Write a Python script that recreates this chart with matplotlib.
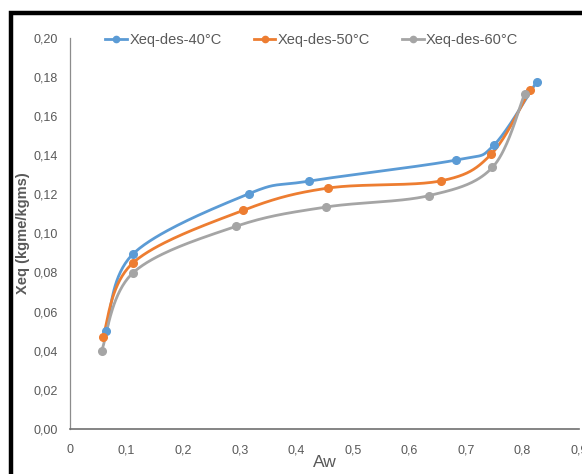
import matplotlib
matplotlib.use("Agg")
import matplotlib.pyplot as plt
import numpy as np
from matplotlib.lines import Line2D
from matplotlib.patches import Rectangle

plt.rcParams['font.family'] = ['Liberation Sans Narrow', 'Liberation Sans', 'DejaVu Sans']

# Data
aw_40 = [0.064, 0.112, 0.317, 0.423, 0.682, 0.749, 0.825]
xeq_40 = [0.0500, 0.0896, 0.1203, 0.1267, 0.1374, 0.1449, 0.1774]
aw_50 = [0.058, 0.111, 0.306, 0.456, 0.656, 0.745, 0.813]
xeq_50 = [0.0468, 0.0848, 0.1117, 0.1231, 0.1268, 0.1405, 0.1730]
aw_60 = [0.056, 0.111, 0.294, 0.452, 0.634, 0.747, 0.804]
xeq_60 = [0.0400, 0.0797, 0.1036, 0.1134, 0.1192, 0.1337, 0.1713]

labels = ["Xeq-des-40°C", "Xeq-des-50°C", "Xeq-des-60°C"]
colors = ["#5B9BD5", "#ED7D31", "#A5A5A5"]

x_ticks = [0, 0.1, 0.2, 0.3, 0.4, 0.5, 0.6, 0.7, 0.8, 0.9]
y_ticks = [0.00, 0.02, 0.04, 0.06, 0.08, 0.10, 0.12, 0.14, 0.16, 0.18, 0.20]


def smooth(xs, ys, n=40):
    # Excel-style smoothed line: cubic Bezier through points
    p = np.column_stack([xs, ys])
    pts = np.vstack([p[0], p, p[-1]])
    out = []
    t = np.linspace(0, 1, n)[:, None]
    for i in range(1, len(pts) - 2):
        p0, p3 = pts[i], pts[i + 1]
        c1 = p0 + (pts[i + 1] - pts[i - 1]) / 6
        c2 = p3 - (pts[i + 2] - pts[i]) / 6
        seg = ((1 - t) ** 3) * p0 + 3 * ((1 - t) ** 2) * t * c1 + 3 * (1 - t) * t ** 2 * c2 + t ** 3 * p3
        out.append(seg)
    out = np.vstack(out)
    return out[:, 0], out[:, 1]


fig = plt.figure(figsize=(5.82, 4.74), dpi=100, facecolor="white")
ax = fig.add_axes([70 / 582, 1 - 429 / 474, 509 / 582, (429 - 37.6) / 474])

series = [(aw_40, xeq_40), (aw_50, xeq_50), (aw_60, xeq_60)]
for (xs, ys), col in zip(series, colors):
    sx, sy = smooth(xs, ys)
    ax.plot(sx, sy, color=col, lw=2, solid_capstyle="round", zorder=2)
    ax.plot(xs, ys, ls="none", marker="o", ms=5.5, color=col, zorder=3)

ax.set_xlim(0, 0.9)
ax.set_ylim(0, 0.2)
ax.set_xticks(x_ticks)
ax.set_yticks(y_ticks)
ax.set_xticklabels([("%g" % v).replace(".", ",") for v in x_ticks])
ax.set_yticklabels([("%.2f" % v).replace(".", ",") for v in y_ticks])
ax.tick_params(length=0, labelsize=9, labelcolor="#595959", pad=11)
ax.tick_params(axis="y", pad=8.5)

for side in ("top", "right"):
    ax.spines[side].set_visible(False)
ax.spines["left"].set_color("#8c8c8c")
ax.spines["left"].set_linewidth(0.9)
ax.spines["bottom"].set_color("#6f6f6f")
ax.spines["bottom"].set_linewidth(1.2)

ax.set_xlabel("Aw", fontsize=12.5, color="#595959", labelpad=-1)
ax.set_ylabel("Xeq (kgme/kgms)", fontsize=10.5, color="#595959",
              fontweight="bold", labelpad=3)

handles = [Line2D([0], [0], color=c, lw=2, marker="o", ms=4.5) for c in colors]
ax.legend(handles, labels, loc="upper center", bbox_to_anchor=(0.475, 1.045),
          ncol=3, frameon=False, fontsize=10.5, labelcolor="#595959",
          handlelength=1.5, handletextpad=0.15, columnspacing=2.2)

# black frame around the chart (cut at right/bottom)
fig.patches.append(Rectangle((11 / 582, -0.2), 1.2, 1.2 - 13.5 / 474,
                             transform=fig.transFigure, fill=False,
                             edgecolor="black", lw=3.2, zorder=10))

fig.savefig("out.png", dpi=100, facecolor="white")
